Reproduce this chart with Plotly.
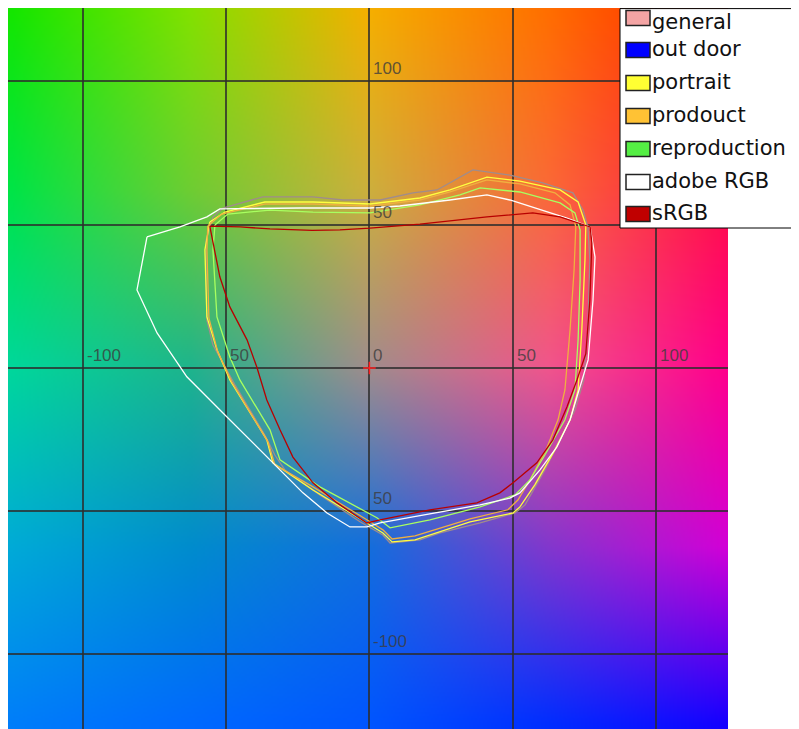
import base64, struct, zlib
import numpy as np
import plotly.graph_objects as go

# ---------------- data (CIELAB a*, b*) ----------------
X_RANGE = [-126.1, 125.1]
Y_RANGE = [-126.0, 125.6]
TICKS = [-100, -50, 0, 50, 100]
X_TICK_VALUES = [-100, -50, 0, 50, 100]
X_TICK_TEXT = ["-100", "50", "0", "50", "100"]
Y_TICK_VALUES = [100, 50, -50, -100]
Y_TICK_TEXT = ["100", "50", "50", "-100"]

general_a = [-54.6, -51.1, -37.2, -19.7, -9.2, 3.7, 15.2, 23.6, 36.1, 49.0, 60.5, 71.0, 74.5, 76.2, 76.9, 76.2,
             74.8, 71.7, 66.5, 61.2, 54.3, 50.8, 38.6, 24.6, 17.6, 7.2, 4.7, 0.2, -3.3, -17.3, -29.5, -33.0,
             -36.5, -46.9, -50.4, -54.6, -56.7, -57.0, -57.0, -54.6]
general_b = [52.7, 55.8, 59.7, 59.7, 58.6, 58.6, 61.1, 62.1, 69.1, 67.3, 64.6, 61.1, 55.1, 49.2, 37.7, 13.3,
             -4.2, -14.7, -25.1, -35.6, -47.8, -50.6, -54.1, -57.6, -60.0, -61.1, -58.3, -55.8, -53.7, -44.3, -35.6, -30.4,
             -23.4, -5.9, 0.3, 8.0, 16.7, 30.7, 44.7, 52.7]

portrait_a = [-55.7, -50.4, -36.5, -19.7, 0.2, 17.6, 28.1, 41.0, 52.5, 66.5, 72.8, 75.5, 75.2, 74.1, 72.8, 70.0,
              64.7, 57.7, 52.5, 50.1, 35.1, 21.1, 15.9, 7.9, 4.7, -0.9, -19.7, -33.7, -35.8, -48.7, -53.2, -56.7,
              -57.4, -55.7]
portrait_b = [50.9, 54.4, 57.9, 57.9, 57.2, 59.3, 62.1, 66.6, 65.2, 62.1, 57.9, 49.9, 37.7, 13.3, -7.7, -18.1,
              -28.6, -40.8, -48.5, -50.6, -53.7, -58.3, -60.0, -60.7, -57.6, -54.1, -42.6, -33.1, -25.1, -4.2, 6.3, 17.8,
              41.2, 50.9]

prodouct_a = [-56.4, -51.5, -36.5, -19.7, 0.2, 17.6, 28.1, 41.0, 52.5, 64.7, 70.0, 72.0, 71.4, 70.0, 68.2, 65.8,
              61.6, 56.0, 51.8, 48.3, 35.1, 21.1, 15.9, 7.9, 4.7, -0.9, -19.7, -33.0, -35.4, -48.0, -52.9, -56.0,
              -56.7, -56.4]
prodouct_b = [49.5, 53.7, 57.2, 57.2, 56.5, 58.6, 61.4, 65.6, 64.2, 61.1, 56.9, 49.2, 34.2, 13.3, -7.7, -18.1,
              -28.6, -39.1, -46.1, -49.5, -52.7, -56.9, -58.6, -59.7, -56.5, -53.0, -41.5, -33.8, -25.8, -4.9, 5.6, 17.4,
              41.2, 49.5]

reproduction_a = [-53.9, -49.4, -34.7, -19.7, 0.2, 17.6, 31.6, 38.6, 52.5, 66.5, 71.7, 73.5, 73.5, 72.8, 71.7,
                  68.2, 61.2, 56.0, 50.8, 38.6, 21.1, 7.2, 2.6, -17.3, -31.2, -34.7, -45.2, -48.7, -53.2, -54.6, -53.9]
reproduction_b = [49.9, 53.7, 55.1, 54.4, 54.1, 56.9, 60.4, 62.8, 61.4, 57.6, 54.1, 48.2, 30.7, 9.8, -7.7,
                  -18.1, -30.4, -39.1, -44.3, -48.5, -53.0, -55.8, -52.3, -41.5, -32.1, -21.6, -4.2, 3.8, 17.8, 41.2, 49.9]

adobe_a = [-77.6, -81.1, -74.1, -63.7, -51.1, -34.7, -23.2, -14.8, -6.8, -0.9, 3.7, 15.2, 38.6, 49.0, 52.5, 59.5,
           65.4, 70.0, 76.3, 78.0, 78.7, 77.0, 68.9, 49.0, 41.0, 28.1, 10.6, 0.2, -24.2, -52.2, -56.7, -66.1, -77.6]
adobe_b = [45.7, 27.2, 12.2, -3.1, -15.7, -32.1, -43.6, -50.6, -55.5, -55.5, -54.1, -52.0, -47.8, -45.4, -43.6, -35.6,
           -27.6, -18.1, 2.8, 23.7, 38.7, 49.2, 52.3, 58.6, 60.4, 58.6, 56.5, 55.8, 55.8, 55.5, 52.7, 49.2, 45.7]

srgb_a = [-55.7, -45.0, -34.7, -20.0, -10.3, 0.2, 17.6, 41.0, 57.0, 66.5, 77.0, 77.6, 76.9, 75.5, 72.4, 68.9,
          64.0, 58.4, 50.1, 45.5, 37.5, 21.1, 3.7, -0.9, -11.3, -19.7, -26.7, -31.2, -35.8, -39.3, -42.7, -48.7,
          -52.2, -55.0, -55.7]
srgb_b = [49.5, 49.2, 48.5, 48.0, 48.2, 48.8, 50.2, 52.7, 54.1, 52.7, 49.2, 43.6, 23.7, 5.0, -4.2, -13.6,
          -25.1, -33.1, -40.1, -43.6, -47.1, -49.5, -53.0, -54.1, -47.1, -40.1, -31.1, -21.6, -11.2, 0.3, 9.8, 21.3,
          31.8, 45.0, 49.5]

LEGEND_NAMES = ["general", "out door", "portrait", "prodouct", "reproduction", "adobe RGB", "sRGB"]
LEGEND_COLORS = ["#f4a4a4", "#0000ff", "#ffff33", "#ffc234", "#55ee44", "#ffffff", "#c00000"]

SERIES = [
    ("general", general_a, general_b, "#a08c8c"),
    ("portrait", portrait_a, portrait_b, "#ffff40"),
    ("prodouct", prodouct_a, prodouct_b, "#f0b040"),
    ("reproduction", reproduction_a, reproduction_b, "#a8ff60"),
    ("adobe RGB", adobe_a, adobe_b, "#ffffff"),
    ("sRGB", srgb_a, srgb_b, "#b80000"),
]

# background colour plane: colours sampled on a 5x5 grid of (a*, b*), rows from b*=+125 down to -125
BG_A = [-125, -62.5, 0, 62.5, 125]
BG_B = [125, 62.5, 0, -62.5, -125]
BG_RGB = [
    [(20, 230, 0), (130, 225, 0), (245, 175, 0), (255, 110, 0), (255, 30, 0)],
    [(0, 228, 70), (110, 205, 50), (205, 175, 60), (250, 105, 55), (255, 15, 70)],
    [(0, 215, 155), (30, 180, 140), (160, 140, 140), (240, 85, 140), (255, 0, 140)],
    [(0, 170, 215), (0, 140, 205), (20, 110, 220), (130, 55, 205), (210, 0, 215)],
    [(0, 125, 250), (0, 105, 255), (0, 85, 255), (0, 45, 255), (20, 0, 255)],
]

# ---------------- page geometry (page body has an 8px margin) ----------------
W, H = 791, 721
ML, MR, MT, MB = 0, 71, 0, 0
PW, PH = W - ML - MR, H - MT - MB
OFF = 8  # body margin in the screenshot


def px_x(p):
    return (p - OFF - ML) / PW


def px_y(p):
    return (H - MB - (p - OFF)) / PH


def background(n):
    a = np.linspace(X_RANGE[0], X_RANGE[1], n)
    b = np.linspace(Y_RANGE[1], Y_RANGE[0], n)
    ia = np.interp(a, BG_A, np.arange(5))
    ib = np.interp(-b, [-v for v in BG_B], np.arange(5))
    IA, IB = np.meshgrid(ia, ib)
    i0 = np.clip(np.floor(IA).astype(int), 0, 3)
    j0 = np.clip(np.floor(IB).astype(int), 0, 3)
    t = (IA - i0)[..., None]
    s = (IB - j0)[..., None]
    C = np.array(BG_RGB, dtype=float)
    c00 = C[j0, i0]
    c01 = C[j0, i0 + 1]
    c10 = C[j0 + 1, i0]
    c11 = C[j0 + 1, i0 + 1]
    img = (c00 * (1 - t) + c01 * t) * (1 - s) + (c10 * (1 - t) + c11 * t) * s
    return np.clip(img.round(), 0, 255).astype(np.uint8)


def png_uri(rgb):
    h, w, _ = rgb.shape
    raw = b"".join(b"\x00" + rgb[i].tobytes() for i in range(h))

    def chunk(tag, d):
        return struct.pack(">I", len(d)) + tag + d + struct.pack(">I", zlib.crc32(tag + d) & 0xFFFFFFFF)

    data = (b"\x89PNG\r\n\x1a\n" + chunk(b"IHDR", struct.pack(">IIBBBBB", w, h, 8, 2, 0, 0, 0))
            + chunk(b"IDAT", zlib.compress(raw, 9)) + chunk(b"IEND", b""))
    return "data:image/png;base64," + base64.b64encode(data).decode()


fig = go.Figure()

for name, a, b, col in SERIES:
    fig.add_trace(go.Scatter(x=a, y=b, mode="lines", name=name, showlegend=False,
                             line=dict(color=col, width=1.3), hoverinfo="skip"))

fig.add_trace(go.Scatter(x=[0], y=[0], mode="markers", showlegend=False, hoverinfo="skip",
                         marker=dict(symbol="cross-thin", size=9, line=dict(color="#ff2020", width=1.5))))

grid_col = "rgba(45,45,45,0.8)"
axis_common = dict(tickvals=TICKS, showticklabels=False, ticks="", showgrid=True, gridcolor=grid_col,
                   gridwidth=1.5, zeroline=True, zerolinecolor=grid_col, zerolinewidth=1.5,
                   showline=False, fixedrange=True)

annotations = []
lab_font = dict(family="Liberation Sans", size=17, color="rgba(60,60,60,0.8)")
for v, t in zip(X_TICK_VALUES, X_TICK_TEXT):
    annotations.append(dict(x=v, y=0, xref="x", yref="y", text=t, showarrow=False, xanchor="left",
                            yanchor="bottom", xshift=2, yshift=1, font=lab_font))
for v, t in zip(Y_TICK_VALUES, Y_TICK_TEXT):
    annotations.append(dict(x=0, y=v, xref="x", yref="y", text=t, showarrow=False, xanchor="left",
                            yanchor="bottom", xshift=2, yshift=1, font=lab_font))

shapes = []
shapes.append(dict(type="rect", xref="paper", yref="paper", x0=px_x(620), x1=px_x(797.5), y0=px_y(228),
                   y1=px_y(8.6), fillcolor="white", line=dict(color="black", width=1), layer="above"))
row_centers = [18, 50, 83, 116, 149, 182, 214]
LEG_FONT = 21
for name, col, cy in zip(LEGEND_NAMES, LEGEND_COLORS, row_centers):
    shapes.append(dict(type="rect", xref="paper", yref="paper", x0=px_x(626), x1=px_x(650),
                       y0=px_y(cy + 7.5), y1=px_y(cy - 7.5), fillcolor=col,
                       line=dict(color="#222222", width=1.5), layer="above"))
    text_cy = max(cy - 1, OFF + 0.6 * LEG_FONT + 1)
    annotations.append(dict(x=px_x(651), y=px_y(text_cy), xref="paper", yref="paper", text=name,
                            showarrow=False, xanchor="left", yanchor="middle", borderpad=0,
                            font=dict(family="DejaVu Sans", size=LEG_FONT, color="#111111")))

fig.update_layout(
    width=W, height=H, margin=dict(l=ML, r=MR, t=MT, b=MB, pad=0),
    paper_bgcolor="white", plot_bgcolor="white", showlegend=False,
    xaxis=dict(range=X_RANGE, **axis_common),
    yaxis=dict(range=Y_RANGE, **axis_common),
    images=[dict(source=png_uri(background(360)), xref="x", yref="y", x=X_RANGE[0], y=Y_RANGE[1],
                 sizex=X_RANGE[1] - X_RANGE[0], sizey=Y_RANGE[1] - Y_RANGE[0], sizing="stretch",
                 layer="below", opacity=1)],
    shapes=shapes, annotations=annotations,
)

fig.write_html("out.html")
